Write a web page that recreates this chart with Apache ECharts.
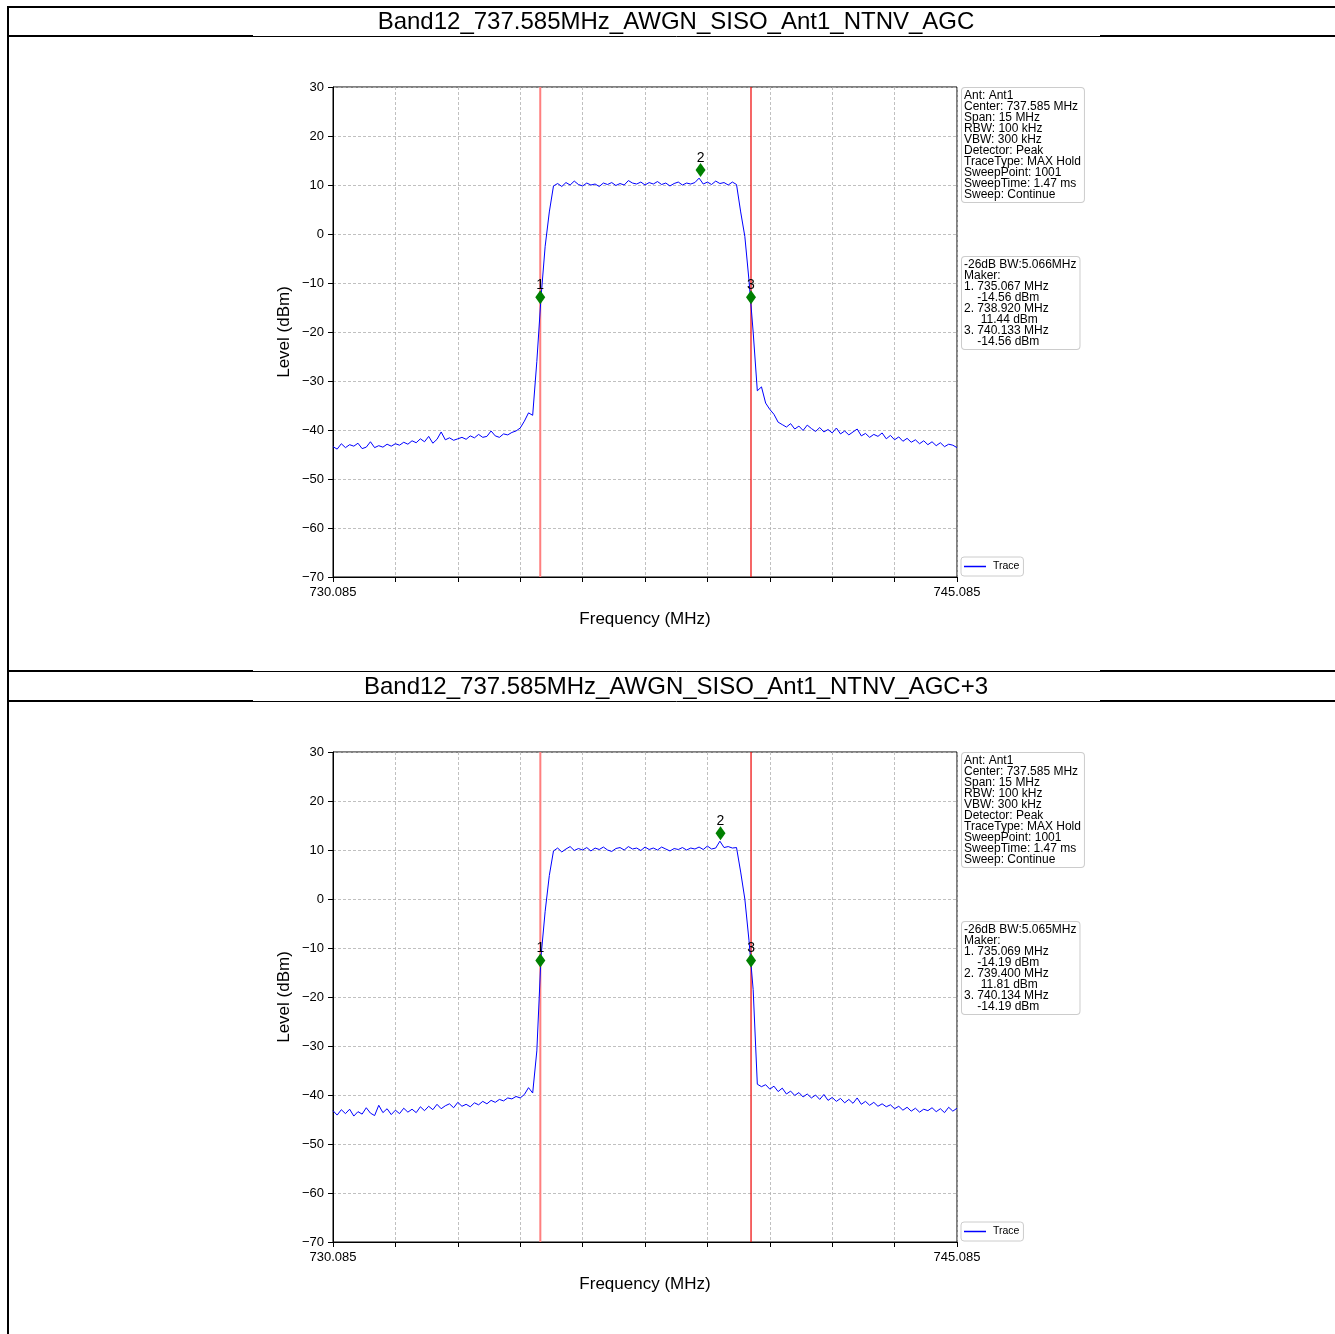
<!DOCTYPE html>
<html>
<head>
<meta charset="utf-8">
<script src="https://cdn.jsdelivr.net/npm/echarts@6/dist/echarts.min.js"></script>
<style>html,body{margin:0;padding:0;background:#fff;}#c{width:1335px;height:1334px;}</style>
</head>
<body>
<div id="c"></div>
<script>
// ---------- data ----------
const titles = ['Band12_737.585MHz_AWGN_SISO_Ant1_NTNV_AGC', 'Band12_737.585MHz_AWGN_SISO_Ant1_NTNV_AGC+3'];
const xMin = 730.085, xMax = 745.085, xInterval = 1.5;
const xEndLabels = ['730.085', '745.085'];
const yMin = -70, yMax = 30, yInterval = 10;
const traceStart = 730.085, traceStep = 0.1;

const trace1 = [
-43.4,-43.9,-42.8,-43.6,-43.0,-43.3,-42.7,-43.8,-43.5,-42.4,
-43.6,-43.2,-43.5,-42.9,-43.3,-42.8,-43.1,-42.5,-42.9,-42.2,
-42.6,-41.8,-42.4,-41.3,-42.7,-41.9,-40.4,-42.0,-41.6,-42.1,
-41.8,-41.5,-41.9,-41.2,-41.6,-40.9,-41.5,-41.3,-40.2,-41.2,
-41.5,-40.8,-41.0,-40.5,-40.2,-39.6,-38.2,-36.5,-37.0,-26.0,
-13.0,-2.5,4.5,9.8,10.3,9.7,10.5,10.0,10.8,10.1,
9.8,10.4,10.0,10.2,9.7,10.4,10.1,10.5,9.9,10.3,
10.0,10.9,10.4,10.2,10.6,10.0,10.5,10.2,10.7,10.1,
10.4,9.8,10.3,10.6,10.0,10.4,10.2,10.5,11.4,10.2,
10.6,10.1,10.8,10.3,10.5,10.0,10.6,10.1,4.5,-0.5,
-9.5,-20.0,-32.0,-31.2,-34.5,-35.8,-36.8,-38.4,-38.9,-39.4,
-38.7,-39.8,-39.2,-40.1,-39.0,-39.7,-40.3,-39.5,-40.4,-39.9,
-40.6,-39.6,-40.8,-40.2,-41.0,-40.4,-39.8,-41.2,-40.7,-41.5,
-40.9,-41.3,-40.6,-41.8,-41.1,-42.0,-41.4,-42.3,-41.7,-42.5,
-42.0,-42.8,-42.2,-43.0,-42.4,-43.2,-42.6,-43.4,-42.9,-43.1,
-43.6];

const trace2 = [
-43.2,-44.1,-43.0,-43.8,-42.9,-44.3,-43.4,-43.9,-42.6,-43.7,
-44.2,-42.1,-43.6,-42.8,-44.0,-43.1,-43.8,-42.7,-43.5,-42.9,
-43.6,-42.4,-43.2,-42.3,-43.0,-41.9,-42.8,-42.2,-41.8,-42.6,
-41.5,-42.3,-41.9,-42.4,-41.6,-42.0,-41.3,-41.8,-41.1,-41.5,
-40.9,-41.2,-40.6,-40.8,-40.3,-40.6,-39.9,-38.5,-39.6,-31.0,
-11.8,-2.5,4.8,9.8,10.4,9.6,10.2,10.7,9.9,10.3,
10.0,10.5,9.8,10.4,10.1,10.6,10.0,9.7,10.3,10.5,
10.0,10.7,10.2,10.4,9.9,10.6,10.1,10.4,10.0,10.6,
10.2,9.8,10.3,10.1,10.5,10.0,10.4,10.2,10.6,10.1,
10.8,10.2,10.4,11.8,10.5,10.7,10.4,10.5,5.5,0.0,
-8.5,-18.5,-37.8,-38.3,-37.9,-38.8,-38.2,-39.3,-38.6,-39.8,
-39.2,-40.1,-39.5,-40.4,-39.8,-40.6,-40.0,-40.9,-39.9,-41.1,
-40.5,-41.3,-40.7,-41.6,-40.9,-41.7,-40.6,-41.9,-41.3,-42.1,
-41.5,-42.3,-41.8,-42.4,-42.0,-42.8,-42.3,-43.1,-42.5,-43.3,
-42.7,-43.5,-42.9,-43.2,-42.6,-43.4,-42.8,-43.6,-42.5,-43.3,
-42.7];

const markerNames = ['1', '2', '3'];
const markerFreq1 = [735.067, 738.920, 740.133];
const markerLevel1 = [-14.56, 11.44, -14.56];
const markerFreq2 = [735.069, 739.400, 740.134];
const markerLevel2 = [-14.19, 11.81, -14.19];
const bwText = ['-26dB BW:5.066MHz', '-26dB BW:5.065MHz'];

const infoLines = ['Ant: Ant1', 'Center: 737.585 MHz', 'Span: 15 MHz', 'RBW: 100 kHz', 'VBW: 300 kHz',
  'Detector: Peak', 'TraceType: MAX Hold', 'SweepPoint: 1001', 'SweepTime: 1.47 ms', 'Sweep: Continue'];

// ---------- build ----------
const FONT = '"Liberation Sans", Arial, sans-serif';
const chart = echarts.init(document.getElementById('c'), null, {renderer: 'canvas'});

const plotTops = [87, 752];
const traces = [trace1, trace2];
const mFreqs = [markerFreq1, markerFreq2];
const mLevels = [markerLevel1, markerLevel2];

function markerText(freqs, levels, bw) {
  const lines = [bw, 'Maker:'];
  for (let k = 0; k < freqs.length; k++) {
    lines.push((k + 1) + '. ' + freqs[k].toFixed(3) + ' MHz');
    const lv = levels[k].toFixed(2) + ' dBm';
    lines.push((levels[k] < 0 ? '    ' : '     ') + lv);
  }
  return lines.join('\n');
}

const grids = [], xAxes = [], yAxes = [], series = [], legends = [], graphics = [];
for (let p = 0; p < 2; p++) {
  const top = plotTops[p];
  grids.push({left: 333, top: top, width: 624, height: 490, show: true, borderColor: '#000', borderWidth: 1, backgroundColor: 'transparent'});
  xAxes.push({
    gridIndex: p, type: 'value', min: xMin, max: xMax, interval: xInterval,
    name: 'Frequency (MHz)', nameLocation: 'middle', nameGap: 34,
    nameTextStyle: {fontFamily: FONT, fontSize: 17, color: '#000'},
    axisLine: {onZero: false, lineStyle: {color: '#000', width: 1}},
    axisTick: {show: true, inside: false, length: 5, lineStyle: {color: '#000'}},
    axisLabel: {fontFamily: FONT, fontSize: 13, color: '#000', margin: 9,
      formatter: v => Math.abs(v - xMin) < 1e-6 ? xEndLabels[0] : (Math.abs(v - xMax) < 1e-6 ? xEndLabels[1] : '')},
    splitLine: {show: true, lineStyle: {color: '#b0b0b0', type: [3, 2], width: 0.8}}
  });
  yAxes.push({
    gridIndex: p, type: 'value', min: yMin, max: yMax, interval: yInterval,
    name: 'Level (dBm)', nameLocation: 'middle', nameGap: 40, nameRotate: 90,
    nameTextStyle: {fontFamily: FONT, fontSize: 17, color: '#000'},
    axisLine: {show: true, onZero: false, lineStyle: {color: '#000', width: 1}},
    axisTick: {show: true, inside: false, length: 5, lineStyle: {color: '#000'}},
    axisLabel: {fontFamily: FONT, fontSize: 13, color: '#000', margin: 9,
      formatter: v => v < 0 ? '\u2212' + Math.abs(v) : String(v)},
    splitLine: {show: true, lineStyle: {color: '#b0b0b0', type: [3, 2], width: 0.8}}
  });
  // vertical marker lines (marker 1 and marker 3)
  series.push({
    name: 'vlineA' + p, type: 'line', xAxisIndex: p, yAxisIndex: p,
    data: [[mFreqs[p][0], yMin], [mFreqs[p][0], yMax]],
    symbol: 'none', lineStyle: {color: '#ff7f7f', width: 2}, animation: false, z: 2, silent: true
  });
  series.push({
    name: 'vlineB' + p, type: 'line', xAxisIndex: p, yAxisIndex: p,
    data: [[mFreqs[p][2], yMin], [mFreqs[p][2], yMax]],
    symbol: 'none', lineStyle: {color: '#ee0000', width: 1.2}, animation: false, z: 2, silent: true
  });
  series.push({
    name: 'Trace', type: 'line', xAxisIndex: p, yAxisIndex: p,
    data: traces[p].map((v, i) => [traceStart + i * traceStep, v]),
    symbol: 'none', lineStyle: {color: '#0000ff', width: 1}, itemStyle: {color: '#0000ff'},
    animation: false, z: 3
  });
  series.push({
    name: 'markers' + p, type: 'scatter', xAxisIndex: p, yAxisIndex: p,
    data: mFreqs[p].map((f, k) => ({value: [f, mLevels[p][k]], name: markerNames[k]})),
    symbol: 'diamond', symbolSize: [10, 14], symbolOffset: [0, -8],
    itemStyle: {color: '#008000', opacity: 1}, z: 5, animation: false,
    label: {show: true, position: 'top', distance: -2, formatter: d => d.name,
      fontFamily: FONT, fontSize: 14, color: '#000'}
  });
  legends.push({
    data: [{name: 'Trace', icon: 'rect'}], left: 961, top: top + 470, orient: 'vertical',
    itemWidth: 22, itemHeight: 1.5, itemGap: 5,
    textStyle: {fontFamily: FONT, fontSize: 10.5, color: '#000', padding: [2, 0, 2, 2]},
    borderColor: '#cccccc', borderWidth: 1, borderRadius: 3, padding: [4, 4, 4, 3],
    backgroundColor: '#fff', selectedMode: false
  });
  graphics.push({
    type: 'text', left: 961, top: top, z: 10,
    style: {text: infoLines.join('\n'), font: '12px ' + FONT, fill: '#000', lineHeight: 11,
      backgroundColor: '#fff', borderColor: '#cccccc', borderWidth: 1, borderRadius: 3, padding: [2, 3, 2, 2]}
  });
  graphics.push({
    type: 'text', left: 961, top: top + 169, z: 10,
    style: {text: markerText(mFreqs[p], mLevels[p], bwText[p]), font: '12px ' + FONT, fill: '#000', lineHeight: 11,
      backgroundColor: '#fff', borderColor: '#cccccc', borderWidth: 1, borderRadius: 3, padding: [2, 3, 2, 2]}
  });
}

// frame lines & titles
function hline(y, x1, x2, w) { return {type: 'line', z: 20, shape: {x1: x1, y1: y, x2: x2, y2: y}, style: {stroke: '#000', lineWidth: w}}; }
graphics.push(hline(7, 8, 1335, 2));
graphics.push({type: 'line', z: 20, shape: {x1: 8, y1: 6, x2: 8, y2: 1334}, style: {stroke: '#000', lineWidth: 2}});
[36, 671, 701].forEach(y => {
  graphics.push(hline(y, 8, 253, 2));
  graphics.push(hline(y, 1100, 1335, 2));
  graphics.push(hline(y + 0.5, 253, 1100, 1));
});
graphics.push({type: 'text', z: 20, x: 676, y: 22, style: {text: titles[0], font: '24px ' + FONT, fill: '#000', align: 'center', verticalAlign: 'middle'}});
graphics.push({type: 'text', z: 20, x: 676, y: 687, style: {text: titles[1], font: '24px ' + FONT, fill: '#000', align: 'center', verticalAlign: 'middle'}});

chart.setOption({
  animation: false,
  backgroundColor: '#fff',
  grid: grids, xAxis: xAxes, yAxis: yAxes, series: series, legend: legends, graphic: graphics
});
</script>
</body>
</html>
